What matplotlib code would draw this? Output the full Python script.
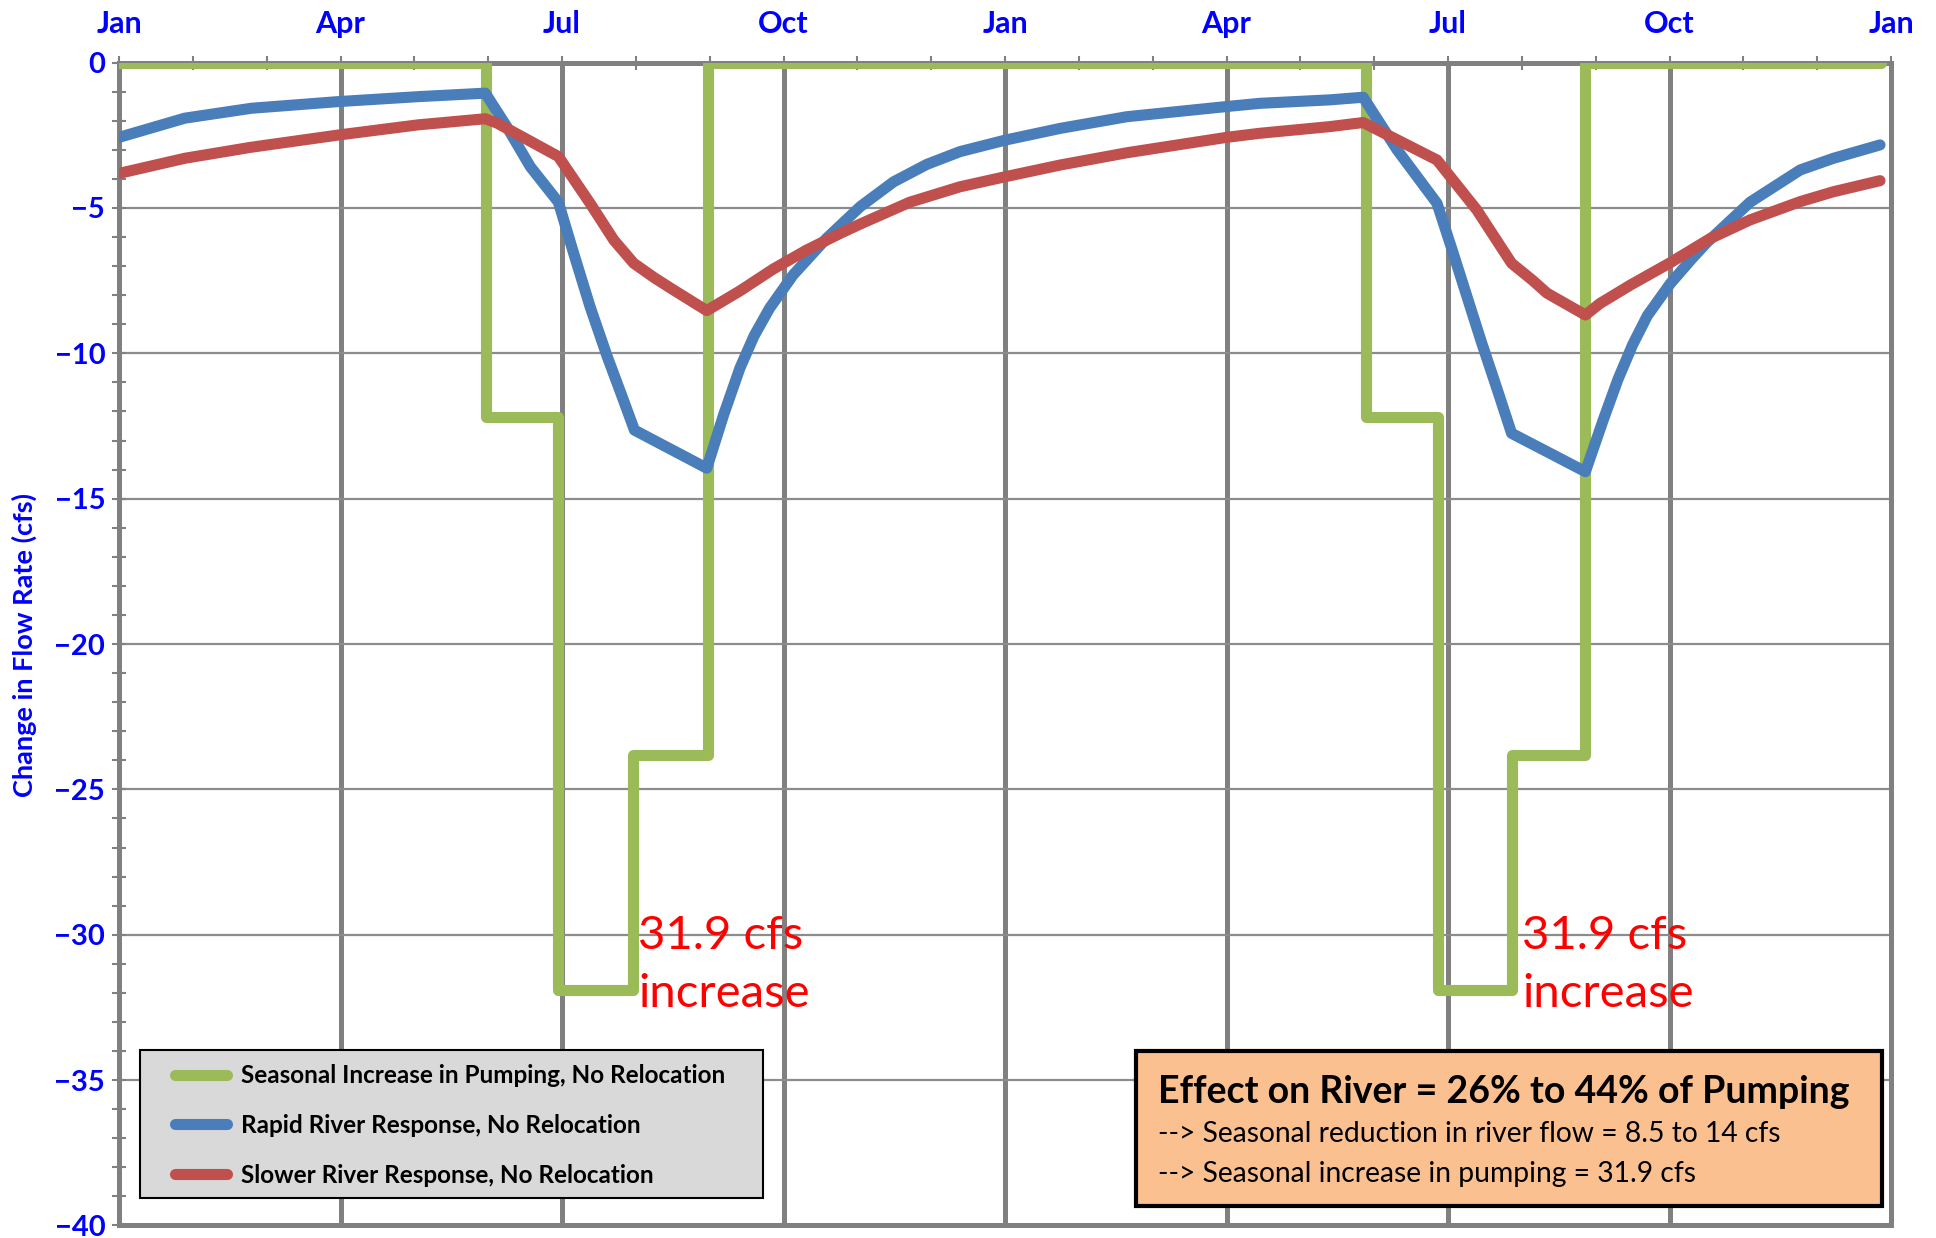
import matplotlib
matplotlib.use('Agg')
import matplotlib.pyplot as plt
from matplotlib.patches import Rectangle

plt.rcParams['font.family'] = ['Lato', 'DejaVu Sans']

# months since Jan 1 of year 1
tick_labels = ['Jan', 'Apr', 'Jul', 'Oct', 'Jan', 'Apr', 'Jul', 'Oct', 'Jan']

# seasonal pumping (step changes)
pump_x = [0, 4.97, 5.95, 6.96, 7.98, 16.89, 17.87, 18.86, 19.86, 23.87]
pump_y = [0, -12.2, -31.9, -23.8, 0, -12.2, -31.9, -23.8, 0, 0]

# rapid river response
rapid_x = [0.0, 0.89, 1.79, 2.97, 4.05, 4.96, 5.25, 5.57, 5.95, 6.15, 6.38, 6.61, 6.83,
           6.98, 7.96, 8.19, 8.41, 8.60, 8.81, 9.13, 9.40, 9.58, 10.04, 10.49, 10.94,
           11.39, 12.01, 12.75, 13.65, 15.0, 15.45, 16.40, 16.85, 17.31, 17.85, 18.05,
           18.25, 18.45, 18.66, 18.86, 19.86, 20.10, 20.30, 20.50, 20.70, 21.01, 21.30,
           21.50, 22.09, 22.77, 23.22, 23.85]
rapid_y = [-2.57, -1.91, -1.57, -1.34, -1.17, -1.05, -2.2, -3.58, -4.8, -6.5, -8.4, -10.1, -11.6,
           -12.64, -13.95, -12.1, -10.5, -9.4, -8.45, -7.3, -6.55, -6.05, -4.95, -4.1, -3.5,
           -3.06, -2.66, -2.26, -1.86, -1.51, -1.40, -1.28, -1.19, -3.0, -4.84, -6.4,
           -8.0, -9.6, -11.2, -12.75, -14.07, -12.3, -10.9, -9.7, -8.7, -7.6, -6.75,
           -6.2, -4.8, -3.69, -3.29, -2.83]

# slower river response
slow_x = [0.0, 0.89, 1.79, 2.97, 4.05, 4.96, 5.12, 5.95, 6.38, 6.70, 6.97, 7.25, 7.51,
          7.96, 8.41, 8.68, 8.86, 9.31, 9.77, 10.04, 10.71, 11.39, 12.01, 12.75, 13.65,
          15.0, 15.45, 16.40, 16.85, 17.85, 18.39, 18.86, 19.15, 19.34, 19.86, 20.06,
          20.47, 21.01, 21.55, 22.09, 22.77, 23.22, 23.85]
slow_y = [-3.81, -3.29, -2.91, -2.49, -2.14, -1.93, -2.08, -3.23, -4.84, -6.1, -6.9, -7.4, -7.82,
          -8.53, -7.85, -7.4, -7.1, -6.45, -5.87, -5.55, -4.8, -4.27, -3.92, -3.52, -3.10,
          -2.57, -2.43, -2.2, -2.06, -3.35, -5.07, -6.9, -7.5, -7.93, -8.68, -8.28,
          -7.65, -6.88, -6.05, -5.41, -4.78, -4.44, -4.06]

green = '#9BBB59'
blue = '#4A7EBB'
red = '#C0504D'
grey = '#808080'
tick_blue = '#0000FF'

fig = plt.figure(figsize=(19.36, 12.38), dpi=100)
ax = fig.add_axes([0.0615, 0.0101, 0.9153, 0.9393])

lw = 8
ax.plot(pump_x, pump_y, drawstyle='steps-post', color=green, lw=lw,
        solid_capstyle='round', solid_joinstyle='round', zorder=3,
        label='Seasonal Increase in Pumping, No Relocation')
ax.plot(rapid_x, rapid_y, color=blue, lw=lw, solid_capstyle='round',
        solid_joinstyle='round', zorder=4, label='Rapid River Response, No Relocation')
ax.plot(slow_x, slow_y, color=red, lw=lw, solid_capstyle='round',
        solid_joinstyle='round', zorder=5, label='Slower River Response, No Relocation')

ax.set_xlim(0, 24)
ax.set_ylim(-40, 0)

ax.xaxis.tick_top()
ax.set_xticks(range(0, 25, 3))
ax.set_xticklabels(tick_labels)
ax.set_xticks(range(0, 25), minor=True)
ax.set_yticks(range(-40, 1, 5))
ax.set_yticks(range(-40, 1), minor=True)

ax.tick_params(axis='x', which='both', direction='inout', length=10, width=1.5,
               color=grey, pad=13)
ax.tick_params(axis='y', which='both', direction='inout', length=10, width=1.5,
               color=grey, pad=5)
for t in ax.get_xticklabels():
    t.set_fontsize(22)
    t.set_fontweight('bold')
    t.set_color(tick_blue)
for t in ax.get_yticklabels():
    t.set_fontsize(21)
    t.set_fontweight('bold')
    t.set_color(tick_blue)

ax.set_axisbelow(True)
ax.grid(axis='x', which='major', color=grey, lw=3.6)
ax.grid(axis='y', which='major', color='#8C8C8C', lw=1.6)
for s in ax.spines.values():
    s.set_color(grey)
    s.set_linewidth(3.6)

fig.text(0.0128, 0.479, 'Change in Flow Rate (cfs)', rotation=90, ha='center',
         va='center', fontsize=19.5, fontweight='bold', color=tick_blue)

# red annotations
for xa in [7.03, 19.0]:
    ax.text(xa, -31.05, '31.9 cfs\nincrease', color='#FF0000', fontsize=34,
            ha='left', va='center', linespacing=1.47, zorder=6)

# legend box
ax.add_patch(Rectangle((0.0721, 0.0326), 0.3220, 0.1196, transform=fig.transFigure,
                       facecolor='#D9D9D9', edgecolor='black', lw=1.5, zorder=19,
                       clip_on=False))
leg = ax.legend(loc='upper left', bbox_to_anchor=(0.0902, 0.1405),
                bbox_transform=fig.transFigure, borderaxespad=0, borderpad=0,
                handlelength=2.14, handletextpad=0.58, labelspacing=1.1,
                frameon=False, prop={'weight': 'bold', 'size': 17.5})
leg.set_zorder(20)

# summary box
fig.patches.append(Rectangle((0.5868, 0.0259), 0.3853, 0.1252, transform=fig.transFigure,
                             facecolor='#FAC090', edgecolor='black', lw=3, zorder=10))
fig.text(0.598, 0.1094, 'Effect on River = 26% to 44% of Pumping', fontsize=27,
         fontweight='bold', va='baseline', zorder=11)
fig.text(0.598, 0.0775, '--> Seasonal reduction in river flow = 8.5 to 14 cfs',
         fontsize=20.3, va='baseline', zorder=11)
fig.text(0.598, 0.0456, '--> Seasonal increase in pumping = 31.9 cfs',
         fontsize=20.3, va='baseline', zorder=11)

fig.savefig('out.png', dpi=100)
